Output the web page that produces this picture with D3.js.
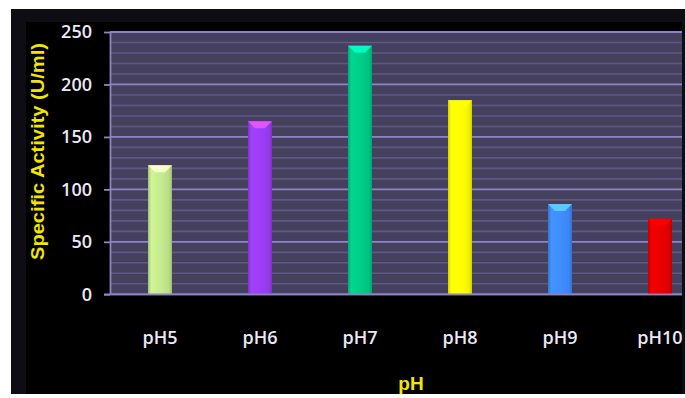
<!DOCTYPE html>
<html>
<head>
<meta charset="utf-8">
<script src="https://cdn.jsdelivr.net/npm/d3@7/dist/d3.min.js"></script>
<style>
  html, body { margin: 0; padding: 0; background: #ffffff; }
  svg { display: block; }
</style>
</head>
<body>
<script>
// pH profile of specific activity
const categories = ["pH5", "pH6", "pH7", "pH8", "pH9", "pH10"];
const activity = [123, 165, 237, 185, 86, 72];
const barColors = ["#c4e88e", "#9b3df5", "#00cc88", "#ffff00", "#3f8cff", "#e80000"];
const yTicks = [0, 50, 100, 150, 200, 250];
const yMinorTicks = d3.range(0, 251, 10);

const W = 685, H = 398;
const svg = d3.select("body").append("svg").attr("width", W).attr("height", H);
const defs = svg.append("defs");

const labelFont = "'Open Sans', 'Liberation Sans', Arial, sans-serif";

// frame
svg.append("rect").attr("x", 11).attr("y", 9).attr("width", 674).attr("height", 385).attr("fill", "#0e0d13");
svg.append("rect").attr("x", 26).attr("y", 22).attr("width", 656).attr("height", 372).attr("fill", "#000000");

const plot = { left: 110, top: 32, right: 682, bottom: 294.3 };

const x = d3.scaleBand().domain(categories).range([110, 710]).paddingInner(0.76).paddingOuter(0.38);
const y = d3.scaleLinear().domain([0, 250]).range([plot.bottom, plot.top]);

defs.append("clipPath").attr("id", "plotClip")
  .append("rect").attr("x", plot.left).attr("y", plot.top - 2)
  .attr("width", plot.right - plot.left).attr("height", plot.bottom - plot.top + 4);

// plot background
svg.append("rect")
  .attr("x", plot.left).attr("y", plot.top)
  .attr("width", plot.right - plot.left).attr("height", plot.bottom - plot.top)
  .attr("fill", "#46405f");

const g = svg.append("g").attr("clip-path", "url(#plotClip)");

// minor gridlines
g.selectAll("line.minor").data(yMinorTicks.filter(v => v % 50 !== 0)).join("line")
  .attr("class", "minor")
  .attr("x1", plot.left).attr("x2", plot.right)
  .attr("y1", d => y(d)).attr("y2", d => y(d))
  .attr("stroke", "#5e5882").attr("stroke-width", 1.6);

// major gridlines
g.selectAll("line.major").data(yTicks).join("line")
  .attr("class", "major")
  .attr("x1", plot.left).attr("x2", plot.right)
  .attr("y1", d => y(d)).attr("y2", d => y(d))
  .attr("stroke", "#8c84c6").attr("stroke-width", 1.8);

// bar gradients
barColors.forEach((c, i) => {
  const base = d3.color(c);
  const grad = defs.append("linearGradient").attr("id", "bar" + i)
    .attr("x1", "0").attr("x2", "1").attr("y1", "0").attr("y2", "0");
  grad.append("stop").attr("offset", "0%").attr("stop-color", base.darker(0.5));
  grad.append("stop").attr("offset", "14%").attr("stop-color", base.brighter(0.15));
  grad.append("stop").attr("offset", "60%").attr("stop-color", base);
  grad.append("stop").attr("offset", "88%").attr("stop-color", base.darker(0.15));
  grad.append("stop").attr("offset", "100%").attr("stop-color", base.darker(0.6));
});

const bars = g.selectAll("g.bar").data(categories).join("g").attr("class", "bar");

bars.append("rect")
  .attr("x", d => x(d))
  .attr("y", (d, i) => y(activity[i]))
  .attr("width", x.bandwidth())
  .attr("height", (d, i) => y(0) - y(activity[i]))
  .attr("fill", (d, i) => `url(#bar${i})`);

// bevel highlight on the top of each bar
bars.append("path")
  .attr("d", (d, i) => {
    const x0 = x(d), x1 = x(d) + x.bandwidth(), t = y(activity[i]);
    const bev = 7;
    return `M${x0},${t} L${x1},${t} L${x1 - bev},${t + bev} L${x0 + bev},${t + bev} Z`;
  })
  .attr("fill", (d, i) => d3.color(barColors[i]).brighter(1.1))
  .attr("opacity", 0.9);

// y axis
const yAxis = svg.append("g").attr("transform", `translate(${plot.left},0)`)
  .call(d3.axisLeft(y).tickValues(yTicks).tickSize(6).tickPadding(12).tickSizeOuter(0));
yAxis.select(".domain").attr("stroke", "#8c84c6").attr("stroke-width", 1.8);
yAxis.selectAll(".tick line").attr("stroke", "#8c84c6").attr("stroke-width", 1.8);
yAxis.selectAll(".tick text")
  .attr("fill", "#ece8f8")
  .style("font-family", labelFont)
  .style("font-weight", 600)
  .style("font-size", "18px");

// x axis baseline
svg.append("line")
  .attr("x1", plot.left - 6).attr("x2", plot.right)
  .attr("y1", y(0)).attr("y2", y(0))
  .attr("stroke", "#8c84c6").attr("stroke-width", 1.8);

// category labels
svg.selectAll("text.cat").data(categories).join("text")
  .attr("class", "cat")
  .attr("x", d => x(d) + x.bandwidth() / 2)
  .attr("y", 344)
  .attr("text-anchor", "middle")
  .attr("fill", "#ece8f8")
  .style("font-family", labelFont)
  .style("font-weight", 600)
  .style("font-size", "18px")
  .text(d => d);

// axis titles
svg.append("text")
  .attr("transform", `translate(44,${(43 + 260) / 2}) rotate(-90)`)
  .attr("text-anchor", "middle")
  .attr("textLength", 217)
  .attr("lengthAdjust", "spacingAndGlyphs")
  .attr("fill", "#f2e600")
  .style("font-family", "'Liberation Sans', Arial, sans-serif")
  .style("font-size", "18px")
  .style("font-weight", "bold")
  .text("Specific Activity (U/ml)");

svg.append("text")
  .attr("x", 411).attr("y", 390)
  .attr("text-anchor", "middle")
  .attr("fill", "#f2e600")
  .style("font-family", "'Liberation Sans', Arial, sans-serif")
  .style("font-size", "19px")
  .style("font-weight", "bold")
  .text("pH");
</script>
</body>
</html>
